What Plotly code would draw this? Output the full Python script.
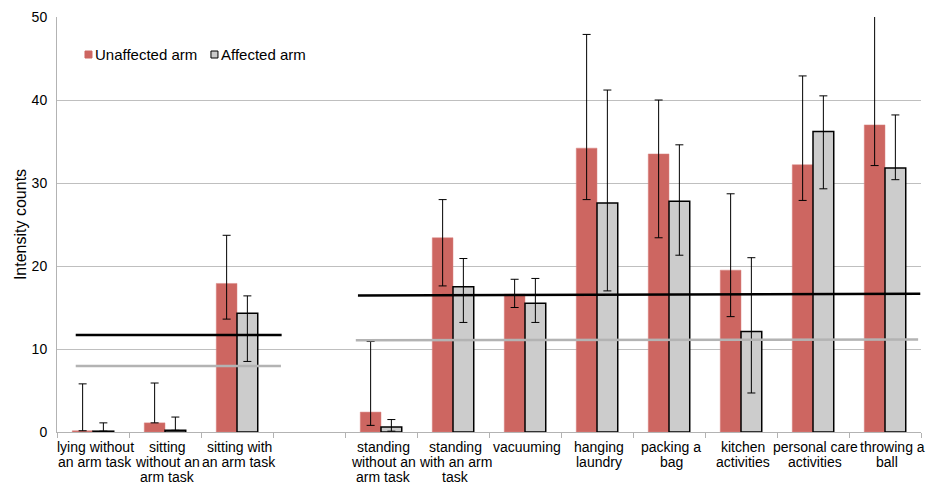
import plotly.graph_objects as go

categories = ["lying without<br>an arm task", "sitting<br>without an<br>arm task", "sitting with<br>an arm task", "",
              "standing<br>without an<br>arm task", "standing<br>with an arm<br>task", "vacuuming", "hanging<br>laundry",
              "packing a<br>bag", "kitchen<br>activities", "personal care<br>activities", "throwing a<br>ball"]

unaffected = [0.15, 1.1, 17.9, None, 2.4, 23.4, 16.6, 34.2, 33.5, 19.5, 32.2, 37.0]
unaff_hi   = [5.8, 5.9, 23.7, None, 10.9, 28.0, 18.4, 47.9, 40.0, 28.7, 42.9, 56.0]
unaff_lo   = [0.15, 1.1, 13.6, None, 0.8, 17.6, 15.0, 28.0, 23.4, 13.9, 27.9, 32.1]

affected = [0.1, 0.2, 14.3, None, 0.6, 17.5, 15.5, 27.6, 27.8, 12.1, 36.2, 31.8]
aff_hi   = [1.1, 1.8, 16.4, None, 1.5, 20.9, 18.5, 41.2, 34.6, 21.0, 40.5, 38.2]
aff_lo   = [0.1, 0.2, 8.5, None, 0.1, 13.2, 13.2, 17.0, 21.3, 4.7, 29.3, 30.4]

# reference lines: (start slot, end slot, start value, end value)
black_ref = [(-0.24, 2.62, 11.7, 11.7), (3.68, 11.49, 16.45, 16.65)]
gray_ref  = [(-0.24, 2.61, 7.95, 7.95), (3.65, 11.46, 11.05, 11.15)]

y_ticks = [0, 10, 20, 30, 40, 50]

series_names = ["Unaffected arm", "Affected arm"]
red = "#CD6661"
grey = "#CCCCCC"

x = list(range(len(categories)))

def err(vals, hi, lo):
    plus = [None if v is None else h - v for v, h in zip(vals, hi)]
    minus = [None if v is None else v - l for v, l in zip(vals, lo)]
    return plus, minus

up_p, up_m = err(unaffected, unaff_hi, unaff_lo)
ap_p, ap_m = err(affected, aff_hi, aff_lo)

fig = go.Figure()
fig.add_trace(go.Bar(
    x=x, y=unaffected, name=series_names[0], showlegend=False,
    marker=dict(color=red, line=dict(color="#D98580", width=0.5)),
    error_y=dict(type="data", symmetric=False, array=up_p, arrayminus=up_m,
                 color="black", thickness=1, width=4),
))
fig.add_trace(go.Bar(
    x=x, y=affected, name=series_names[1], showlegend=False,
    marker=dict(color=grey, line=dict(color="black", width=1.5)),
    error_y=dict(type="data", symmetric=False, array=ap_p, arrayminus=ap_m,
                 color="black", thickness=1, width=4),
))

for (x0, x1, v0, v1) in gray_ref:
    fig.add_trace(go.Scatter(x=[x0, x1], y=[v0, v1], mode="lines",
                             line=dict(color="#B3B3B3", width=2.5), showlegend=False, hoverinfo="skip"))
for (x0, x1, v0, v1) in black_ref:
    fig.add_trace(go.Scatter(x=[x0, x1], y=[v0, v1], mode="lines",
                             line=dict(color="black", width=2.5), showlegend=False, hoverinfo="skip"))

# category labels, one annotation per line for tight line spacing
annotations = []
for i, lab in enumerate(categories):
    if not lab:
        continue
    for k, line in enumerate(lab.split("<br>")):
        xs = 7 if line == "throwing a" else 2
        annotations.append(dict(x=i, y=0, xref="x", yref="paper", text=line, showarrow=False,
                                xanchor="center", yanchor="top", yshift=-5 - 15 * k, xshift=xs,
                                font=dict(size=14, color="black")))

# legend (drawn as annotations + small squares)
leg_items = [(series_names[0], red, red, 0.0324), (series_names[1], grey, "black", 0.1782)]
shapes = []
for name, fill, edge, lx in leg_items:
    shapes.append(dict(type="rect", xref="paper", yref="paper", x0=lx, x1=lx + 0.0081,
                       y0=0.9012, y1=0.918, fillcolor=fill, line=dict(color=edge, width=1)))
    annotations.append(dict(x=lx + 0.0095, y=0.909, xref="paper", yref="paper", text=name,
                            showarrow=False, xanchor="left", yanchor="middle",
                            font=dict(size=15, color="black")))

# page body has an 8px margin, so the figure is sized/offset to compensate
fig.update_layout(
    width=942, height=480,
    margin=dict(l=49, r=29, t=9, b=56, autoexpand=False),
    paper_bgcolor="white", plot_bgcolor="white",
    font=dict(family="Liberation Sans, Arial, sans-serif", color="black", size=14),
    barmode="group", bargap=0.424, bargroupgap=0,
    showlegend=False,
    annotations=annotations, shapes=shapes,
)
fig.update_xaxes(
    range=[-0.5, 11.5], tickmode="array", tickvals=x, ticktext=[""] * len(x),
    ticks="", showgrid=False, zeroline=False, automargin=False,
    showline=True, linecolor="#B3B3B3", linewidth=1,
    minor=dict(ticks="outside", tick0=-0.5, dtick=1, ticklen=5, tickcolor="#B3B3B3", showgrid=False),
)
fig.update_yaxes(
    range=[0, 50], tickmode="array", tickvals=y_ticks, automargin=False,
    showgrid=True, gridcolor="#BFBFBF", gridwidth=1, zeroline=False,
    showline=True, linecolor="#B3B3B3", linewidth=1,
    ticks="outside", ticklen=6, tickcolor="rgba(0,0,0,0)",
    tickfont=dict(size=14),
    title=dict(text="Intensity counts", font=dict(size=16), standoff=1),
)

fig.write_html("out.html")
